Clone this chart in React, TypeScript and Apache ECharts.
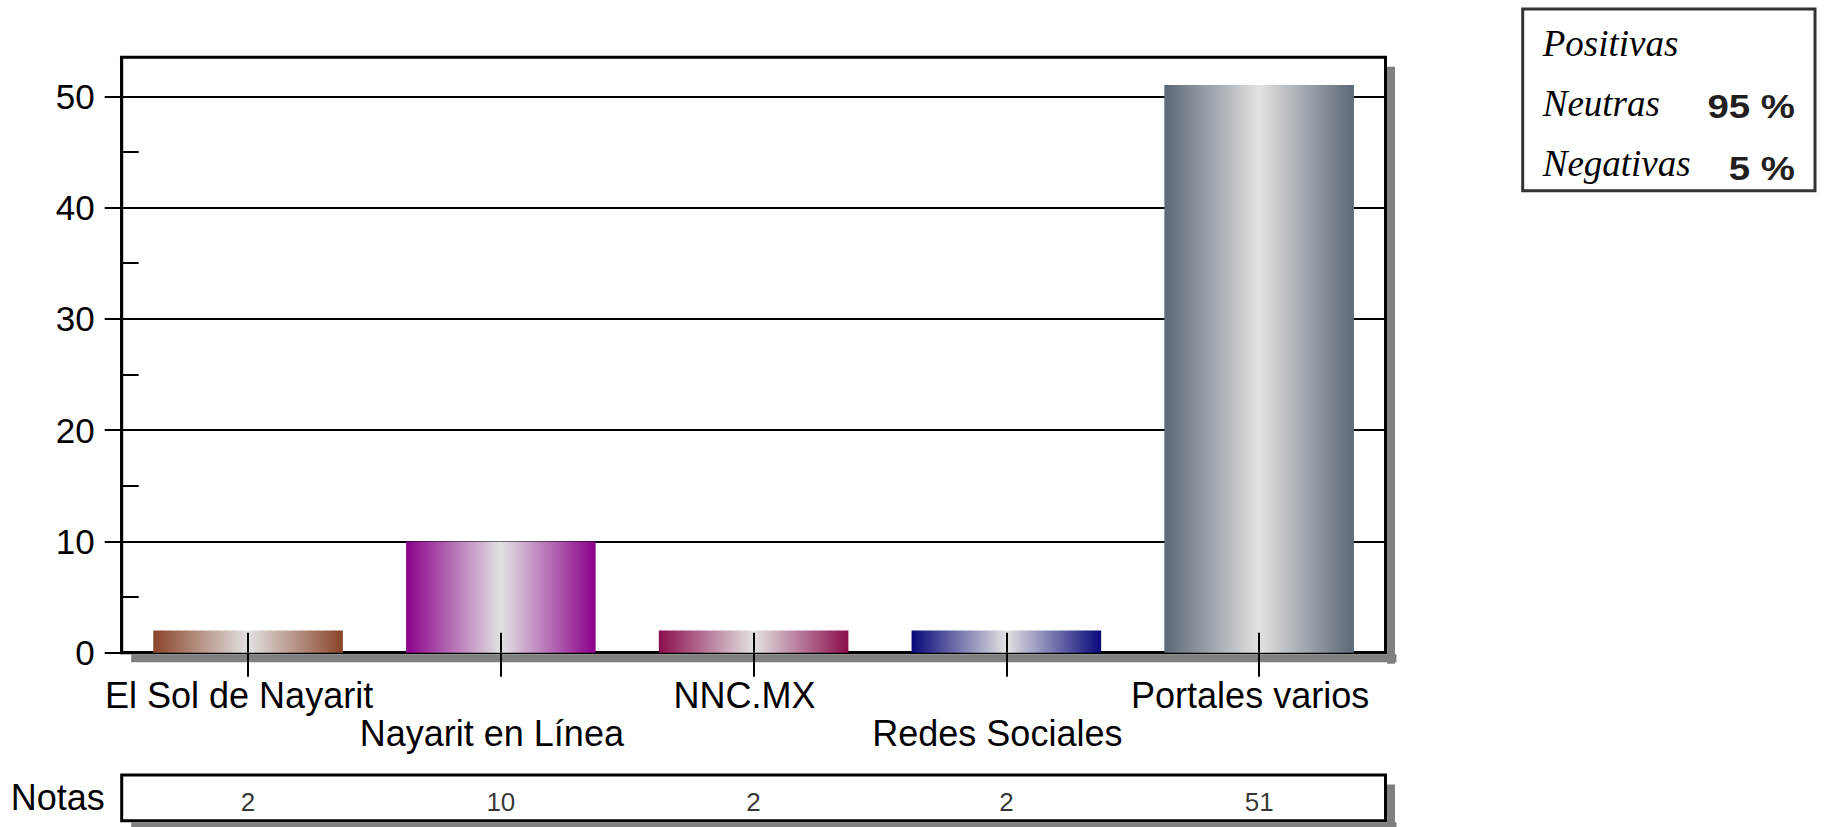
import React, { useEffect, useRef } from "react";
import * as echarts from "echarts";

// ---- data ----
const categories = ["El Sol de Nayarit", "Nayarit en Línea", "NNC.MX", "Redes Sociales", "Portales varios"];
const notas = [2, 10, 2, 2, 51];
const barColors = ["#8b4528", "#8b008b", "#8b0d4d", "#08087a", "#5b6877"];
const yTicks = [0, 10, 20, 30, 40, 50];
const yMinorTicks = [5, 15, 25, 35, 45];
const yMax = 53.5;
const tableLabel = ["Notas"];
const sentimentLabels = ["Positivas", "Neutras", "Negativas"];
const sentimentValues = ["", "95 %", "5 %"];

// ---- layout ----
const W = 1824;
const H = 827;
const PLOT = { left: 121.7, right: 1385.5, top: 57.3, bottom: 652.7 };
const TABLE = { top: 775, bottom: 820.7 };
const SH = 9.5;
const BOX = { x: 1522.7, y: 9, w: 292.3, h: 181.7 };
const SANS = '"Liberation Sans", Arial, sans-serif';
const SERIF = '"Liberation Serif", "Times New Roman", serif';

function grad(c: string) {
  return new echarts.graphic.LinearGradient(0, 0, 1, 0, [
    { offset: 0, color: c },
    { offset: 0.5, color: "#e2e2e2" },
    { offset: 1, color: c },
  ]);
}

export default function App() {
  const ref = useRef<HTMLDivElement>(null);
  useEffect(() => {
    if (!ref.current) return;
    const chart = echarts.init(ref.current, undefined, { renderer: "svg" });
    const pw = PLOT.right - PLOT.left;
    const shadowFill = "#808080";
    const graphic: any[] = [
      // plot shadow
      { type: "rect", z: 0, shape: { x: PLOT.right + 1.5, y: PLOT.top + SH, width: SH - 1.5, height: PLOT.bottom - PLOT.top + 1.5 }, style: { fill: shadowFill } },
      { type: "rect", z: 0, shape: { x: PLOT.left + SH, y: PLOT.bottom + 1.5, width: pw + 1.5, height: SH - 1.5 }, style: { fill: shadowFill } },
      // table shadow
      { type: "rect", z: 0, shape: { x: PLOT.right + 1.5, y: TABLE.top + SH, width: SH - 1.5, height: TABLE.bottom - TABLE.top + 1.5 }, style: { fill: shadowFill } },
      { type: "rect", z: 0, shape: { x: PLOT.left + SH, y: TABLE.bottom + 1.5, width: pw + 1.5, height: SH - 1.5 }, style: { fill: shadowFill } },
      // sentiment box
      { type: "rect", shape: { x: BOX.x, y: BOX.y, width: BOX.w, height: BOX.h }, style: { fill: "#fff", stroke: "#333", lineWidth: 3 } },
    ];
    sentimentLabels.forEach((t, i) => {
      graphic.push({
        type: "text",
        x: BOX.x + 20,
        y: BOX.y + 34 + 60 * i,
        style: { text: t, fontSize: 37, fontFamily: SERIF, fontStyle: "italic", fill: "#000", align: "left", verticalAlign: "middle" },
      });
      if (sentimentValues[i]) {
        graphic.push({
          type: "text",
          x: BOX.x + BOX.w - 20,
          y: BOX.y + 36 + 61.5 * i,
          scaleX: 1.13,
          style: { text: sentimentValues[i], fontSize: 34, fontFamily: SANS, fontWeight: "bold", fill: "#231f20", align: "right", verticalAlign: "middle" },
        });
      }
    });

    const option: any = {
      animation: false,
      backgroundColor: "#fff",
      textStyle: { fontFamily: SANS },
      grid: [
        {
          left: PLOT.left, top: PLOT.top, width: pw, height: PLOT.bottom - PLOT.top,
          show: true, borderColor: "#000", borderWidth: 3, backgroundColor: "#fff",
          containLabel: false, outerBoundsMode: "none",
        },
        {
          left: PLOT.left, top: TABLE.top, width: pw, height: TABLE.bottom - TABLE.top,
          show: true, borderColor: "#000", borderWidth: 3, backgroundColor: "#fff",
          containLabel: false, outerBoundsMode: "none",
        },
      ],
      xAxis: [
        {
          gridIndex: 0, type: "category", data: categories, position: "bottom",
          axisLine: { show: true, lineStyle: { color: "#000", width: 3 } },
          axisTick: { show: true, alignWithLabel: true, length: 24, lineStyle: { color: "#000", width: 2 } },
          axisLabel: {
            show: true, interval: 0, fontSize: 36, lineHeight: 38, margin: 24, color: "#000", fontFamily: SANS,
            padding: [0, 18, 0, 0],
            formatter: (v: string, i: number) => (i % 2 ? "\n" + v : v),
          },
          splitLine: { show: false },
        },
        {
          gridIndex: 0, type: "category", data: categories, position: "bottom", offset: 0, z: 10,
          axisLine: { show: false },
          axisTick: { show: true, inside: true, alignWithLabel: true, length: 20, lineStyle: { color: "#000", width: 2 } },
          axisLabel: { show: false },
          splitLine: { show: false },
        },
        {
          gridIndex: 1, type: "category", data: categories, show: false,
        },
      ],
      yAxis: [
        {
          gridIndex: 0, type: "value", min: 0, max: yMax, interval: 10, position: "left",
          axisLine: { show: true, lineStyle: { color: "#000", width: 3 } },
          axisTick: { show: true, length: 17, customValues: yTicks, lineStyle: { color: "#000", width: 2 } },
          axisLabel: {
            show: true, customValues: yTicks, fontSize: 35, margin: 27, color: "#000", fontFamily: SANS,
            formatter: (v: number) => (yTicks.includes(v) ? String(v) : ""),
          },
          splitLine: { show: true, lineStyle: { color: "#000", width: 2 } },
        },
        {
          gridIndex: 0, type: "value", min: 0, max: yMax, interval: 5, position: "left", offset: 0,
          axisLine: { show: false },
          axisTick: { show: true, inside: true, length: 17, customValues: yMinorTicks, lineStyle: { color: "#000", width: 2 } },
          axisLabel: { show: false },
          splitLine: { show: false },
        },
        {
          gridIndex: 1, type: "category", data: tableLabel, position: "left",
          axisLine: { show: false }, axisTick: { show: false },
          axisLabel: { show: true, fontSize: 36, margin: 17, color: "#000", fontFamily: SANS },
          splitLine: { show: false },
        },
      ],
      series: [
        {
          type: "bar",
          xAxisIndex: 0, yAxisIndex: 0,
          barWidth: "75%",
          data: notas.map((v, i) => ({ value: v, itemStyle: { color: grad(barColors[i]) } })),
          z: 1,
        },
        {
          type: "scatter",
          xAxisIndex: 2, yAxisIndex: 2,
          symbolSize: 1,
          itemStyle: { color: "rgba(0,0,0,0)" },
          data: notas.map((v, i) => [categories[i], tableLabel[0], v]),
          label: {
            show: true, position: "inside", offset: [0, 4], fontSize: 26, color: "#000", fontFamily: SANS,
            formatter: (p: any) => String(notas[p.dataIndex]),
          },
        },
      ],
      graphic,
    };
    chart.setOption(option);
    return () => chart.dispose();
  }, []);
  return <div ref={ref} style={{ position: "fixed", left: 0, top: 0, width: W, height: H }} />;
}
